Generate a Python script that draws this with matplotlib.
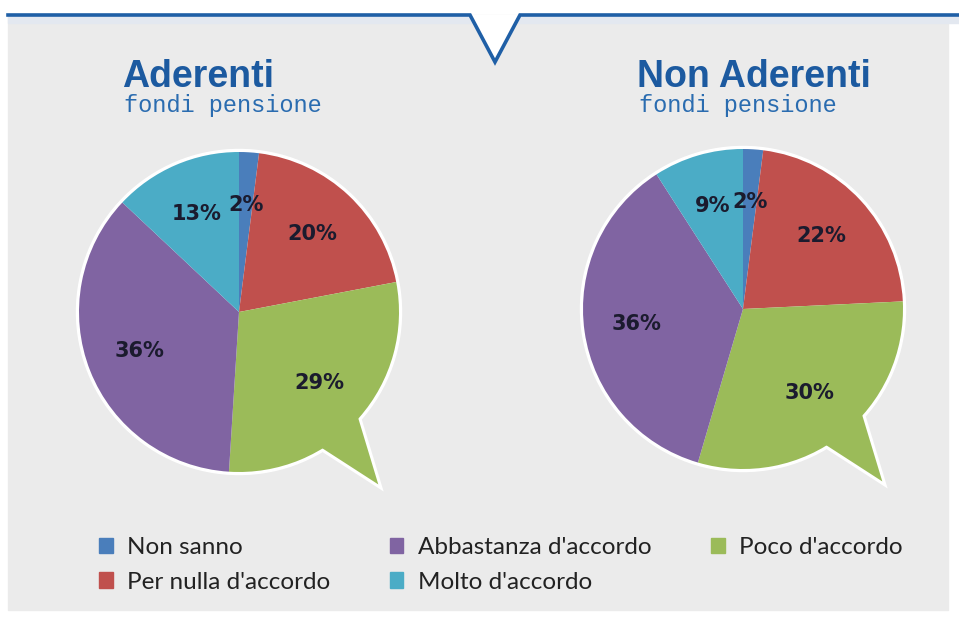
import numpy as np
import matplotlib
matplotlib.use("Agg")
import matplotlib.pyplot as plt
from matplotlib.patches import Rectangle, Polygon, Circle, Patch

# dati
categorie = ["Non sanno", "Per nulla d'accordo", "Poco d'accordo",
             "Abbastanza d'accordo", "Molto d'accordo"]
colori = ["#4a7ebb", "#c0504d", "#9bbb59", "#8064a2", "#4bacc6"]
aderenti = [2, 20, 29, 36, 13]
non_aderenti = [2, 22, 30, 36, 9]
titoli = ["Aderenti", "Non Aderenti"]
sottotitolo = "fondi pensione"

W, H = 959, 617
fig = plt.figure(figsize=(W / 100, H / 100), dpi=100)
fig.patch.set_facecolor("white")
ax = fig.add_axes([0, 0, 1, 1])

def Y(y):
    return H - y

blu = "#1f5fa6"

# pannello grigio e linea con la V
ax.add_patch(Rectangle((8, Y(610)), 940, 595, color="#ebebeb", zorder=0))
ax.add_patch(Rectangle((8, Y(23)), 951, 8, color="#e3e8f0", zorder=0.5))
ax.add_patch(Polygon([(470, Y(15)), (495, Y(62)), (520, Y(15))],
                     closed=True, color="white", zorder=1))
ax.plot([8, 470, 495, 520, W], [Y(15), Y(15), Y(62), Y(15), Y(15)],
        color=blu, lw=2.6, solid_joinstyle="miter", zorder=2)


def torta(valori, cx, cy, r, titolo, tx):
    tot = sum(valori)
    # coda del fumetto
    a1, a2 = np.radians(-40), np.radians(-60)
    base1 = (cx + r * 0.97 * np.cos(a1), Y(cy) + r * 0.97 * np.sin(a1))
    base2 = (cx + r * 0.97 * np.cos(a2), Y(cy) + r * 0.97 * np.sin(a2))
    punta = (cx + 142, Y(cy + 176))
    ax.add_patch(Circle((cx, Y(cy)), r + 2.5, color="white", zorder=2))
    ax.add_patch(Polygon([base1, punta, base2], closed=True, fc=colori[2],
                         ec="white", lw=2.2, joinstyle="miter", zorder=2))
    wedges, _, testi = ax.pie(valori, colors=colori, startangle=90,
                              counterclock=False, center=(cx, Y(cy)), radius=r,
                              frame=True, pctdistance=0.67,
                              autopct=lambda p: f"{p * tot / 100:.0f}%",
                              wedgeprops=dict(linewidth=0),
                              textprops=dict(fontsize=15, fontweight="bold",
                                             color="#1b1b2e",
                                             family="DejaVu Sans"))
    for w in wedges:
        w.set_zorder(3)
    for t in testi:
        t.set_zorder(4)
    ax.text(tx, Y(87), titolo, fontsize=27, fontweight="bold", color="#1c5aa0",
            family="Liberation Sans", ha="left", va="baseline")
    ax.text(tx + 2, Y(112), sottotitolo, fontsize=17, color="#2a6cb0",
            family="Liberation Mono", ha="left", va="baseline")


torta(aderenti, 239, 312, 160, titoli[0], 122)
torta(non_aderenti, 743, 309, 160, titoli[1], 637)

ax.set_xlim(0, W)
ax.set_ylim(0, H)
ax.axis("off")

maniglie = [Patch(color=colori[i]) for i in [0, 1, 3, 4, 2]]
etichette = [categorie[i] for i in [0, 1, 3, 4, 2]]
leg = ax.legend(maniglie, etichette, ncol=3, loc="upper left",
                bbox_to_anchor=(92 / W, 1 - 530 / H), frameon=False,
                prop=dict(family="Lato", size=17.5), handlelength=0.55,
                handleheight=0.6, handletextpad=0.6, columnspacing=2.45,
                labelspacing=0.55, labelcolor="#222222",
                borderaxespad=0, borderpad=0.3)

fig.savefig("out.png", dpi=100, facecolor="white")
